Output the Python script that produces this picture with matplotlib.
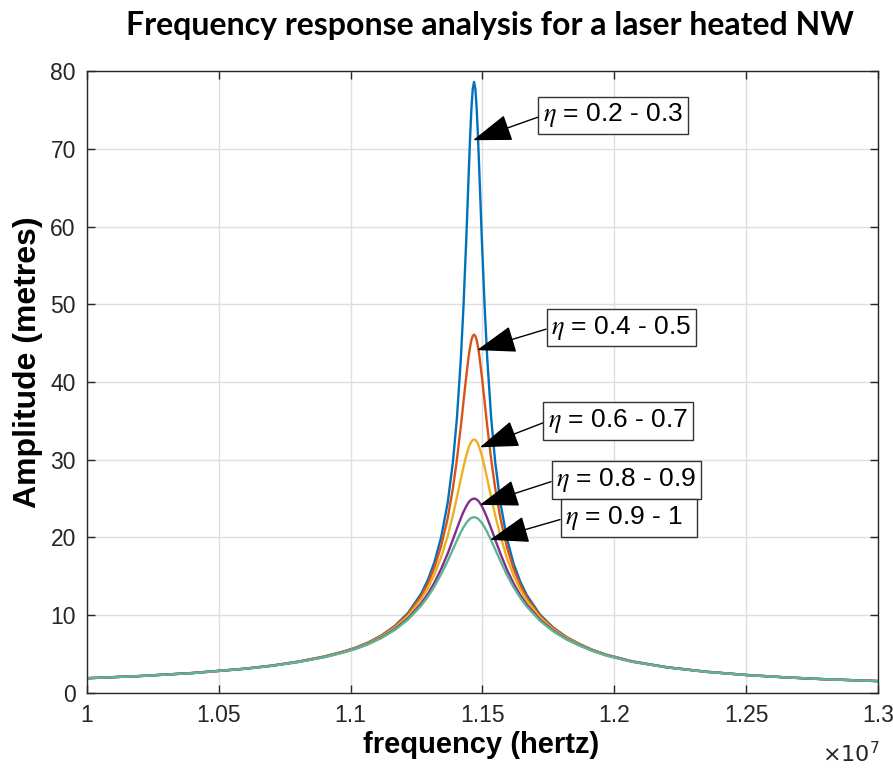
import matplotlib
matplotlib.use("Agg")
import matplotlib.pyplot as plt
from matplotlib.ticker import FuncFormatter

plt.rcParams['font.family'] = ['Liberation Sans', 'DejaVu Sans']
plt.rcParams['mathtext.fontset'] = 'stix'

# frequency in units of 1e7 Hz
freq_e7 = [1.00, 1.02, 1.04, 1.06, 1.07, 1.08, 1.09, 1.0968, 1.1018,
           1.1068, 1.1118, 1.1168, 1.1218, 1.1268, 1.1293, 1.1318, 1.1343, 1.1368,
           1.1388, 1.1403, 1.1418, 1.1428, 1.1438, 1.1448, 1.1453, 1.1458, 1.1463,
           1.1468, 1.1473, 1.1478, 1.1483,
           1.1488, 1.1498, 1.1508, 1.1518, 1.1533, 1.1548, 1.1568, 1.1593, 1.1618,
           1.1643, 1.1668, 1.1718, 1.1768, 1.1818, 1.1868, 1.1918, 1.1968, 1.2068,
           1.22, 1.235, 1.25, 1.265, 1.28, 1.30]

amp_02_03 = [1.90, 2.18, 2.57, 3.13, 3.52, 4.03, 4.69, 5.29, 5.82,
             6.52, 7.43, 8.64, 10.31, 12.80, 14.56, 16.86, 20.01, 24.45,
             29.76, 35.34, 43.05, 49.78, 57.94, 67.07, 71.45, 75.17, 77.70,
             78.60, 77.70, 75.17, 71.45,
             67.07, 57.94, 49.78, 43.05, 35.34, 29.76, 24.45, 19.81, 16.65,
             14.34, 12.59, 10.09, 8.42, 7.21, 6.30, 5.54, 4.94, 4.07,
             3.31, 2.73, 2.32, 2.01, 1.77, 1.53]
amp_04_05 = [1.90, 2.18, 2.57, 3.13, 3.51, 4.02, 4.68, 5.27, 5.78,
             6.48, 7.37, 8.54, 10.15, 12.49, 14.10, 16.17, 18.88, 22.46,
             26.37, 30.03, 34.33, 37.47, 40.60, 43.40, 44.52, 45.38, 45.92,
             46.10, 45.92, 45.38, 44.52,
             43.40, 40.60, 37.47, 34.33, 30.03, 26.37, 22.46, 18.71, 15.98,
             13.91, 12.29, 9.94, 8.33, 7.15, 6.26, 5.52, 4.92, 4.06,
             3.31, 2.73, 2.32, 2.01, 1.77, 1.53]
amp_06_07 = [1.90, 2.18, 2.56, 3.12, 3.51, 4.00, 4.65, 5.24, 5.74,
             6.42, 7.27, 8.40, 9.91, 12.06, 13.49, 15.26, 17.47, 20.19,
             22.89, 25.16, 27.54, 29.08, 30.47, 31.60, 32.03, 32.34, 32.54,
             32.60, 32.54, 32.34, 32.03,
             31.60, 30.47, 29.08, 27.54, 25.16, 22.89, 20.19, 17.33, 15.10,
             13.32, 11.87, 9.72, 8.19, 7.07, 6.21, 5.48, 4.89, 4.05,
             3.30, 2.72, 2.32, 2.01, 1.77, 1.53]
amp_08_09 = [1.89, 2.17, 2.56, 3.11, 3.49, 3.98, 4.62, 5.19, 5.68,
             6.33, 7.15, 8.21, 9.60, 11.52, 12.74, 14.20, 15.94, 17.93,
             19.74, 21.14, 22.49, 23.30, 24.00, 24.54, 24.74, 24.88, 24.97,
             25.00, 24.97, 24.88, 24.74,
             24.54, 24.00, 23.30, 22.49, 21.14, 19.74, 17.93, 15.84, 14.08,
             12.60, 11.36, 9.43, 8.02, 6.95, 6.13, 5.42, 4.85, 4.02,
             3.29, 2.72, 2.31, 2.00, 1.76, 1.53]
amp_09_1 = [1.89, 2.17, 2.55, 3.11, 3.48, 3.97, 4.60, 5.17, 5.65,
            6.29, 7.09, 8.11, 9.45, 11.25, 12.39, 13.72, 15.26, 16.98,
            18.49, 19.62, 20.69, 21.32, 21.85, 22.26, 22.41, 22.51, 22.58,
            22.60, 22.58, 22.51, 22.41,
            22.26, 21.85, 21.32, 20.69, 19.62, 18.49, 16.98, 15.17, 13.60,
            12.26, 11.11, 9.28, 7.93, 6.89, 6.09, 5.40, 4.83, 4.01,
            3.28, 2.71, 2.31, 2.00, 1.76, 1.52]

series = [amp_02_03, amp_04_05, amp_06_07, amp_08_09, amp_09_1]
colors = ['#0072BD', '#D95319', '#EDB120', '#7E2F8E', '#5DB593']
labels = ['0.2 - 0.3', '0.4 - 0.5', '0.6 - 0.7', '0.8 - 0.9', '0.9 - 1']
# arrow tip on curve, box anchor (left middle)
tips = [(1.1464, 71.1), (1.1479, 44.1), (1.1490, 31.6), (1.1490, 24.2), (1.1528, 19.7)]
boxes = [(1.1730, 74.3), (1.1761, 47.0), (1.1749, 35.0), (1.1780, 27.4), (1.1814, 22.5)]

fig = plt.figure(figsize=(8.93, 7.71), dpi=100)
ax = fig.add_axes([0.0974, 0.1012, 0.8858, 0.8067])

for amp, c in zip(series, colors):
    ax.plot(freq_e7, amp, color=c, lw=1.7)

ax.set_xlim(1.0, 1.3)
ax.set_ylim(0, 80)
ax.set_xticks([1.0, 1.05, 1.1, 1.15, 1.2, 1.25, 1.3])
ax.set_yticks(range(0, 81, 10))
ax.xaxis.set_major_formatter(FuncFormatter(lambda v, p: '%g' % v))
ax.grid(True, color='#dedede', lw=1)
ax.set_axisbelow(True)
ax.tick_params(direction='in', top=True, right=True, length=6, width=1,
               colors='#262626', labelsize=16.5, pad=8)
for s in ax.spines.values():
    s.set_color('#262626')
    s.set_linewidth(1)

for lab, tip, box in zip(labels, tips, boxes):
    # fixed-width text boxes like the original annotations
    txt = r'$\eta$ = ' + lab.ljust(9)
    ax.annotate(txt, xy=tip, xytext=box, ha='left', va='center',
                fontsize=19,
                bbox=dict(boxstyle='square,pad=0.18', fc='white', ec='#333333', lw=1),
                arrowprops=dict(arrowstyle='-|>,head_length=1.3,head_width=0.45',
                                color='black', lw=1, shrinkA=0, shrinkB=0,
                                relpos=(0, 0.5), mutation_scale=19))

fig.text(490 / 893, 1 - 25 / 771, 'Frequency response analysis for a laser heated NW',
         ha='center', va='center', fontsize=23, fontweight='bold', family='Lato')
fig.text(28 / 893, 1 - 362 / 771, 'Amplitude (metres)', rotation=90,
         ha='center', va='center', fontsize=23, fontweight='bold')
fig.text(481 / 893, 1 - 745 / 771, 'frequency (hertz)',
         ha='center', va='center', fontsize=21, fontweight='bold')
fig.text(851 / 893, 1 - 755 / 771, r'$\times10^{7}$', ha='center', va='center',
         fontsize=16, color='#262626', math_fontfamily='dejavusans')

fig.savefig('out.png', dpi=100)
